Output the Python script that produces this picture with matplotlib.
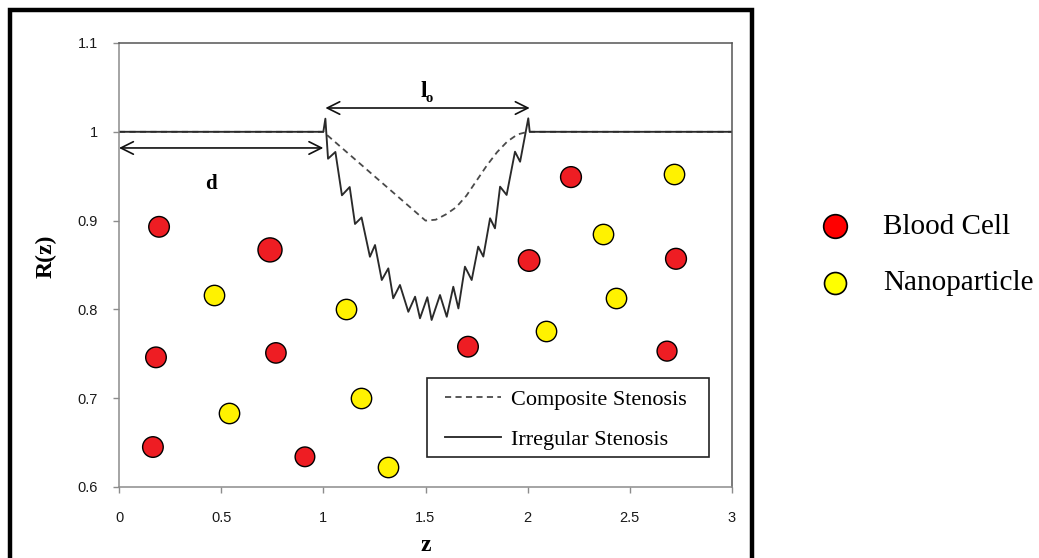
import matplotlib
matplotlib.use("Agg")
import matplotlib.pyplot as plt
from matplotlib.patches import Rectangle

# ---------------- data ----------------
z_irregular = [0.0, 1.0, 1.010, 1.023, 1.059, 1.091, 1.129, 1.155, 1.187, 1.228, 1.253,
               1.286, 1.318, 1.342, 1.375, 1.416, 1.449, 1.473, 1.509, 1.530, 1.571,
               1.604, 1.636, 1.661, 1.693, 1.726, 1.758, 1.783, 1.816, 1.840, 1.865,
               1.897, 1.938, 1.963, 2.003, 2.010, 3.0]
r_irregular = [1.0, 1.0, 1.0148, 0.9697, 0.9773, 0.9285, 0.9378, 0.8962, 0.9035, 0.8593, 0.8725,
               0.8331, 0.8462, 0.8125, 0.8275, 0.7973, 0.8143, 0.7900, 0.8137, 0.7881, 0.8162,
               0.7917, 0.8255, 0.8011, 0.8481, 0.8331, 0.8707, 0.8595, 0.9026, 0.8913, 0.9382,
               0.9289, 0.9776, 0.9663, 1.0152, 1.0, 1.0]

z_composite = [0.0, 1.0, 1.1, 1.2, 1.3, 1.4, 1.5, 1.55, 1.6, 1.65, 1.7, 1.75, 1.8,
               1.85, 1.9, 1.95, 2.0, 3.0]
r_composite = [1.0, 1.0, 0.98, 0.96, 0.94, 0.92, 0.90, 0.901, 0.907, 0.915, 0.928, 0.945,
               0.962, 0.977, 0.989, 0.997, 1.0, 1.0]

blood_z = [0.196, 0.739, 0.181, 0.768, 0.166, 0.910, 1.708, 2.007, 2.212, 2.682, 2.726]
blood_r = [0.893, 0.867, 0.746, 0.751, 0.645, 0.634, 0.758, 0.855, 0.949, 0.753, 0.857]

nano_z = [0.465, 0.538, 1.111, 1.185, 1.317, 2.090, 2.369, 2.433, 2.717]
nano_r = [0.816, 0.683, 0.800, 0.700, 0.623, 0.776, 0.885, 0.813, 0.952]

x_ticks = [0, 0.5, 1, 1.5, 2, 2.5, 3]
x_ticklabels = ["0", "0.5", "1", "1.5", "2", "2.5", "3"]
y_ticks = [0.6, 0.7, 0.8, 0.9, 1.0, 1.1]
y_ticklabels = ["0.6", "0.7", "0.8", "0.9", "1", "1.1"]

series_labels = ["Composite Stenosis", "Irregular Stenosis"]
particle_labels = ["Blood Cell", "Nanoparticle"]

# d and lo dimension arrows (z extents)
d_span = (0.0, 1.0)
lo_span = (1.0, 2.0)

# ---------------- figure ----------------
W, H = 1039, 558
fig = plt.figure(figsize=(W / 100, H / 100), dpi=100)
ax = fig.add_axes([119 / W, 1 - 487 / H, (732 - 119) / W, (487 - 43) / H])

serif = "Liberation Serif"
sans = "Liberation Sans"

# outer black frame
fig.add_artist(Rectangle((10 / W, -0.2), (752 - 10) / W, 1.2 - 10 / H,
                         transform=fig.transFigure, fill=False, lw=3.2,
                         ec="black", clip_on=False, zorder=10))

blood_sizes = [220, 300, 220, 215, 220, 200, 220, 240, 225, 205, 225]

ax.scatter(blood_z, blood_r, s=blood_sizes, c="#EE1D23", edgecolors="black",
           linewidths=1.0, zorder=3)
ax.scatter(nano_z, nano_r, s=215, c="#FFF200", edgecolors="black",
           linewidths=1.0, zorder=3)

comp_line, = ax.plot(z_composite, r_composite, color="#4a4a4a", lw=1.3,
                     linestyle=(0, (3.4, 2.4)), zorder=2, label=series_labels[0])
irr_line, = ax.plot(z_irregular, r_irregular, color="#2a2a2a", lw=1.35,
                    zorder=2.5, label=series_labels[1],
                    solid_joinstyle="round")

ax.set_xlim(0, 3)
ax.set_ylim(0.6, 1.1)
ax.set_xticks(x_ticks)
ax.set_xticklabels(x_ticklabels)
ax.set_yticks(y_ticks)
ax.set_yticklabels(y_ticklabels)
ax.tick_params(direction="out", length=4.5, width=1.0, color="#8c8c8c",
               labelsize=10.5, labelcolor="#1a1a1a")
ax.tick_params(axis="y", pad=10.5)
ax.tick_params(axis="x", pad=13)
for lab in ax.get_xticklabels() + ax.get_yticklabels():
    lab.set_fontfamily(sans)
ax.spines["left"].set_color("#8c8c8c")
ax.spines["bottom"].set_color("#8c8c8c")
ax.spines["top"].set_color("#555555")
ax.spines["right"].set_color("#555555")
for s in ax.spines.values():
    s.set_linewidth(1.1)

ax.set_xlabel("z", fontfamily=serif, fontweight="bold", fontsize=17)
ax.set_ylabel("R(z)", fontfamily=serif, fontweight="bold", fontsize=17)
ax.xaxis.set_label_coords(0.5, -0.109)
ax.yaxis.set_label_coords(-0.101, 0.52)

# dimension arrows
arrow_style = "<->,head_length=0.9,head_width=0.45"
ax.annotate("", xy=(d_span[0], 0.9818), xytext=(d_span[1], 0.9818),
            arrowprops=dict(arrowstyle=arrow_style, lw=1.2, color="#111111",
                            shrinkA=0, shrinkB=0))
ax.annotate("", xy=(lo_span[0] + 0.01, 1.0268), xytext=(lo_span[1] + 0.01, 1.0268),
            arrowprops=dict(arrowstyle=arrow_style, lw=1.2, color="#111111",
                            shrinkA=0, shrinkB=0))
ax.text(0.45, 0.941, "d", fontfamily=serif, fontweight="bold", fontsize=15,
        ha="center", va="center")
ax.text(1.49, 1.0455, "l", fontfamily=serif, fontweight="bold", fontsize=17,
        ha="center", va="center")
ax.text(1.518, 1.0375, "o", fontfamily=serif, fontweight="bold", fontsize=10.5,
        ha="center", va="center")

# in-plot legend: entries without frame, frame drawn as box
leg = ax.legend(handles=[comp_line, irr_line], loc="upper left",
                bbox_to_anchor=(1.5955, 0.7098), bbox_transform=ax.transData,
                borderaxespad=0, frameon=False,
                prop={"family": serif, "size": 16},
                handlelength=2.5, handletextpad=0.45, labelspacing=0.86,
                borderpad=0)
ax.add_patch(Rectangle((1.508, 0.6338), 2.888 - 1.508, 0.7227 - 0.6338,
                       fill=False, ec="#222222", lw=1.2, zorder=4))

# outside legend (particles)
h1 = ax.scatter([], [], s=290, c="#FF0000", edgecolors="black", linewidths=1.2)
h2 = ax.scatter([], [], s=250, c="#FFFF00", edgecolors="black", linewidths=1.2)
fig.legend(handles=[h1, h2], labels=particle_labels, loc="center left",
           bbox_to_anchor=(809 / W, 1 - 255 / H), borderaxespad=0,
           frameon=False, prop={"family": serif, "size": 21},
           handlelength=1.0, handletextpad=1.15, labelspacing=1.02,
           scatterpoints=1)

fig.savefig("out.png", dpi=100)
